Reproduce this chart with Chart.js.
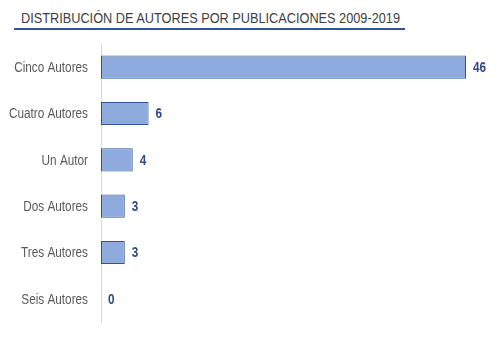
<!DOCTYPE html>
<html>
<head>
<meta charset="utf-8">
<script src="https://cdn.jsdelivr.net/npm/chart.js@4/dist/chart.umd.min.js"></script>
<style>
  html, body { margin: 0; padding: 0; background: #fff; }
  #wrap { position: relative; width: 503px; height: 339px; overflow: hidden; }
  #title {
    position: absolute; left: 14px; top: 10px; width: 391px; height: 20px;
    border-bottom: 2px solid #2F5597; box-sizing: border-box;
  }
  #title span {
    position: absolute; left: 7px; top: 0; white-space: nowrap;
    font-family: "Liberation Sans", Arial, sans-serif;
    font-size: 14px; line-height: 16px; color: #404040;
    transform-origin: 0 0;
  }
  canvas { position: absolute; left: 0; top: 0; }
</style>
</head>
<body>
<div id="wrap">
  <div id="title"><span id="titleText">DISTRIBUCIÓN DE AUTORES POR PUBLICACIONES 2009-2019</span></div>
  <canvas id="c" width="503" height="339"></canvas>
</div>
<script>
const categories = ["Cinco Autores", "Cuatro Autores", "Un Autor", "Dos Autores", "Tres Autores", "Seis Autores"];
const publicaciones = [46, 6, 4, 3, 3, 0];

const sans = '"Liberation Sans", Arial, sans-serif';
const squeeze = 0.84;   // horizontal compression for a narrow look

// Squeeze the heading into a narrow width
const t = document.getElementById('titleText');
const tw = t.getBoundingClientRect().width;
t.style.transform = 'scaleX(' + (379 / tw) + ')';

function narrowText(ctx, text, x, y, align) {
  ctx.save();
  ctx.translate(x, y);
  ctx.scale(squeeze, 1);
  ctx.textAlign = align;
  ctx.fillText(text, 0, 0);
  ctx.restore();
}

// Category names beside the axis, placed by the category scale
const categoryLabels = {
  id: 'categoryLabels',
  afterDraw(chart) {
    const ctx = chart.ctx;
    const y = chart.scales.y;
    ctx.save();
    ctx.font = '14px ' + sans;
    ctx.fillStyle = '#595959';
    ctx.textBaseline = 'middle';
    categories.forEach((name, i) => {
      narrowText(ctx, name, y.right - 13, y.getPixelForValue(i) + 1, 'right');
    });
    ctx.restore();
  }
};

// Writes each bar's value just past its end
const valueLabels = {
  id: 'valueLabels',
  afterDatasetsDraw(chart) {
    const ctx = chart.ctx;
    const meta = chart.getDatasetMeta(0);
    ctx.save();
    ctx.font = 'bold 14px ' + sans;
    ctx.fillStyle = '#2F4A8C';
    ctx.textBaseline = 'middle';
    meta.data.forEach((bar, i) => {
      narrowText(ctx, String(publicaciones[i]), bar.x + 7, bar.y + 1, 'left');
    });
    ctx.restore();
  }
};

new Chart(document.getElementById('c'), {
  type: 'bar',
  data: {
    labels: categories,
    datasets: [{
      data: publicaciones,
      backgroundColor: '#8FAADC',
      borderColor: '#2F5597',
      borderWidth: 1,
      borderSkipped: false,
      barPercentage: 0.5,
      categoryPercentage: 1.0
    }]
  },
  options: {
    indexAxis: 'y',
    responsive: false,
    animation: false,
    devicePixelRatio: 1,
    layout: { padding: { top: 44, bottom: 17, right: 37, left: 0 } },
    plugins: { legend: { display: false }, tooltip: { enabled: false } },
    scales: {
      x: { display: false, min: 0, max: 46 },
      y: {
        afterFit(scale) { scale.width = 101; },
        grid: { display: false, drawTicks: false },
        border: { display: true, color: '#D9D9D9', width: 1 },
        ticks: { display: false }
      }
    }
  },
  plugins: [valueLabels, categoryLabels]
});
</script>
</body>
</html>
